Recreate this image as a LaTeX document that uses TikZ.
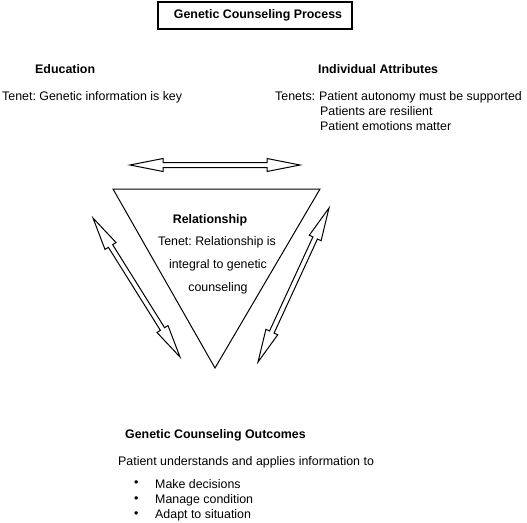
\documentclass[tikz,border=0pt]{standalone}
\usepackage{fontspec}
\setmainfont{Liberation Sans}
\usetikzlibrary{calc}
\frenchspacing
\newcommand\blockarrow[2]{%
  \draw[arrowline] (#1)
   -- ($(#1)!33pt!(#2)!6.5pt!90:(#2)$)
   -- ($(#1)!33pt!(#2)!2.5pt!90:(#2)$)
   -- ($(#2)!33pt!(#1)!2.5pt!-90:(#1)$)
   -- ($(#2)!33pt!(#1)!6.5pt!-90:(#1)$)
   -- (#2)
   -- ($(#2)!33pt!(#1)!6.5pt!90:(#1)$)
   -- ($(#2)!33pt!(#1)!2.5pt!90:(#1)$)
   -- ($(#1)!33pt!(#2)!2.5pt!-90:(#2)$)
   -- ($(#1)!33pt!(#2)!6.5pt!-90:(#2)$)
   -- cycle;}
\tikzset{
  txt/.style={inner sep=0pt, font=\fontsize{12.4}{14}\selectfont\frenchspacing},
  hd/.style={txt, font=\fontsize{12.4}{14}\selectfont\bfseries\frenchspacing},
  arrowline/.style={line width=1pt, line join=miter, fill=white},
  tri/.style={line width=1pt, line join=miter},
}
\begin{document}
\begin{tikzpicture}[x=1pt,y=-1pt]
\useasboundingbox (0,0) rectangle (527,522);
% title
\node[draw, line width=1.2pt, minimum width=194pt, minimum height=27pt, inner sep=0pt,
      font=\fontsize{12.4}{14}\selectfont\bfseries] (title) at (255,15.5) {\hspace*{6pt}Genetic Counseling Process};
% education
\node[hd, anchor=west] (edu) at (35,69) {Education};
\node[txt, anchor=west] (edut) at (2,97) {Tenet: Genetic information is key};
% individual attributes
\node[hd, anchor=west] (ind) at (318,69) {Individual Attributes};
\node[txt, anchor=west] (ind1) at (275,97) {Tenets:\hspace{4pt}Patient autonomy must be supported};
\node[txt, anchor=west] (ind2) at (320,111) {Patients are resilient};
\node[txt, anchor=west] (ind3) at (320,126) {Patient emotions matter};
% triangle
\coordinate (tl) at (113,189);
\coordinate (tr) at (320,189);
\coordinate (tb) at (215,368);
\draw[tri] (tl) -- (tr) -- (tb) -- cycle;
\node[hd] (rel) at (210,220) {Relationship};
\node[txt] (rel1) at (217,242) {Tenet: Relationship is};
\node[txt] (rel2) at (218,265) {integral to genetic};
\node[txt] (rel3) at (218,288) {counseling};
% arrows
\coordinate (h1) at (130,165);
\coordinate (h2) at (300,165);
\coordinate (l1) at (93,218);
\coordinate (l2) at (180,357);
\coordinate (r1) at (329,208);
\coordinate (r2) at (258,362);
\blockarrow{h1}{h2}
\blockarrow{l1}{l2}
\blockarrow{r1}{r2}
% outcomes
\node[hd, anchor=west] (out) at (125,435) {Genetic Counseling Outcomes};
\node[txt, anchor=west] (out1) at (118,462) {Patient understands and applies information to};
\node[txt, anchor=west] (b1) at (134,484) {\textbullet};
\node[txt, anchor=west] (b2) at (134,500) {\textbullet};
\node[txt, anchor=west] (b3) at (134,515) {\textbullet};
\node[txt, anchor=west] (o1) at (155,484) {Make decisions};
\node[txt, anchor=west] (o2) at (155,500) {Manage condition};
\node[txt, anchor=west] (o3) at (155,515) {Adapt to situation};
\end{tikzpicture}
\end{document}
